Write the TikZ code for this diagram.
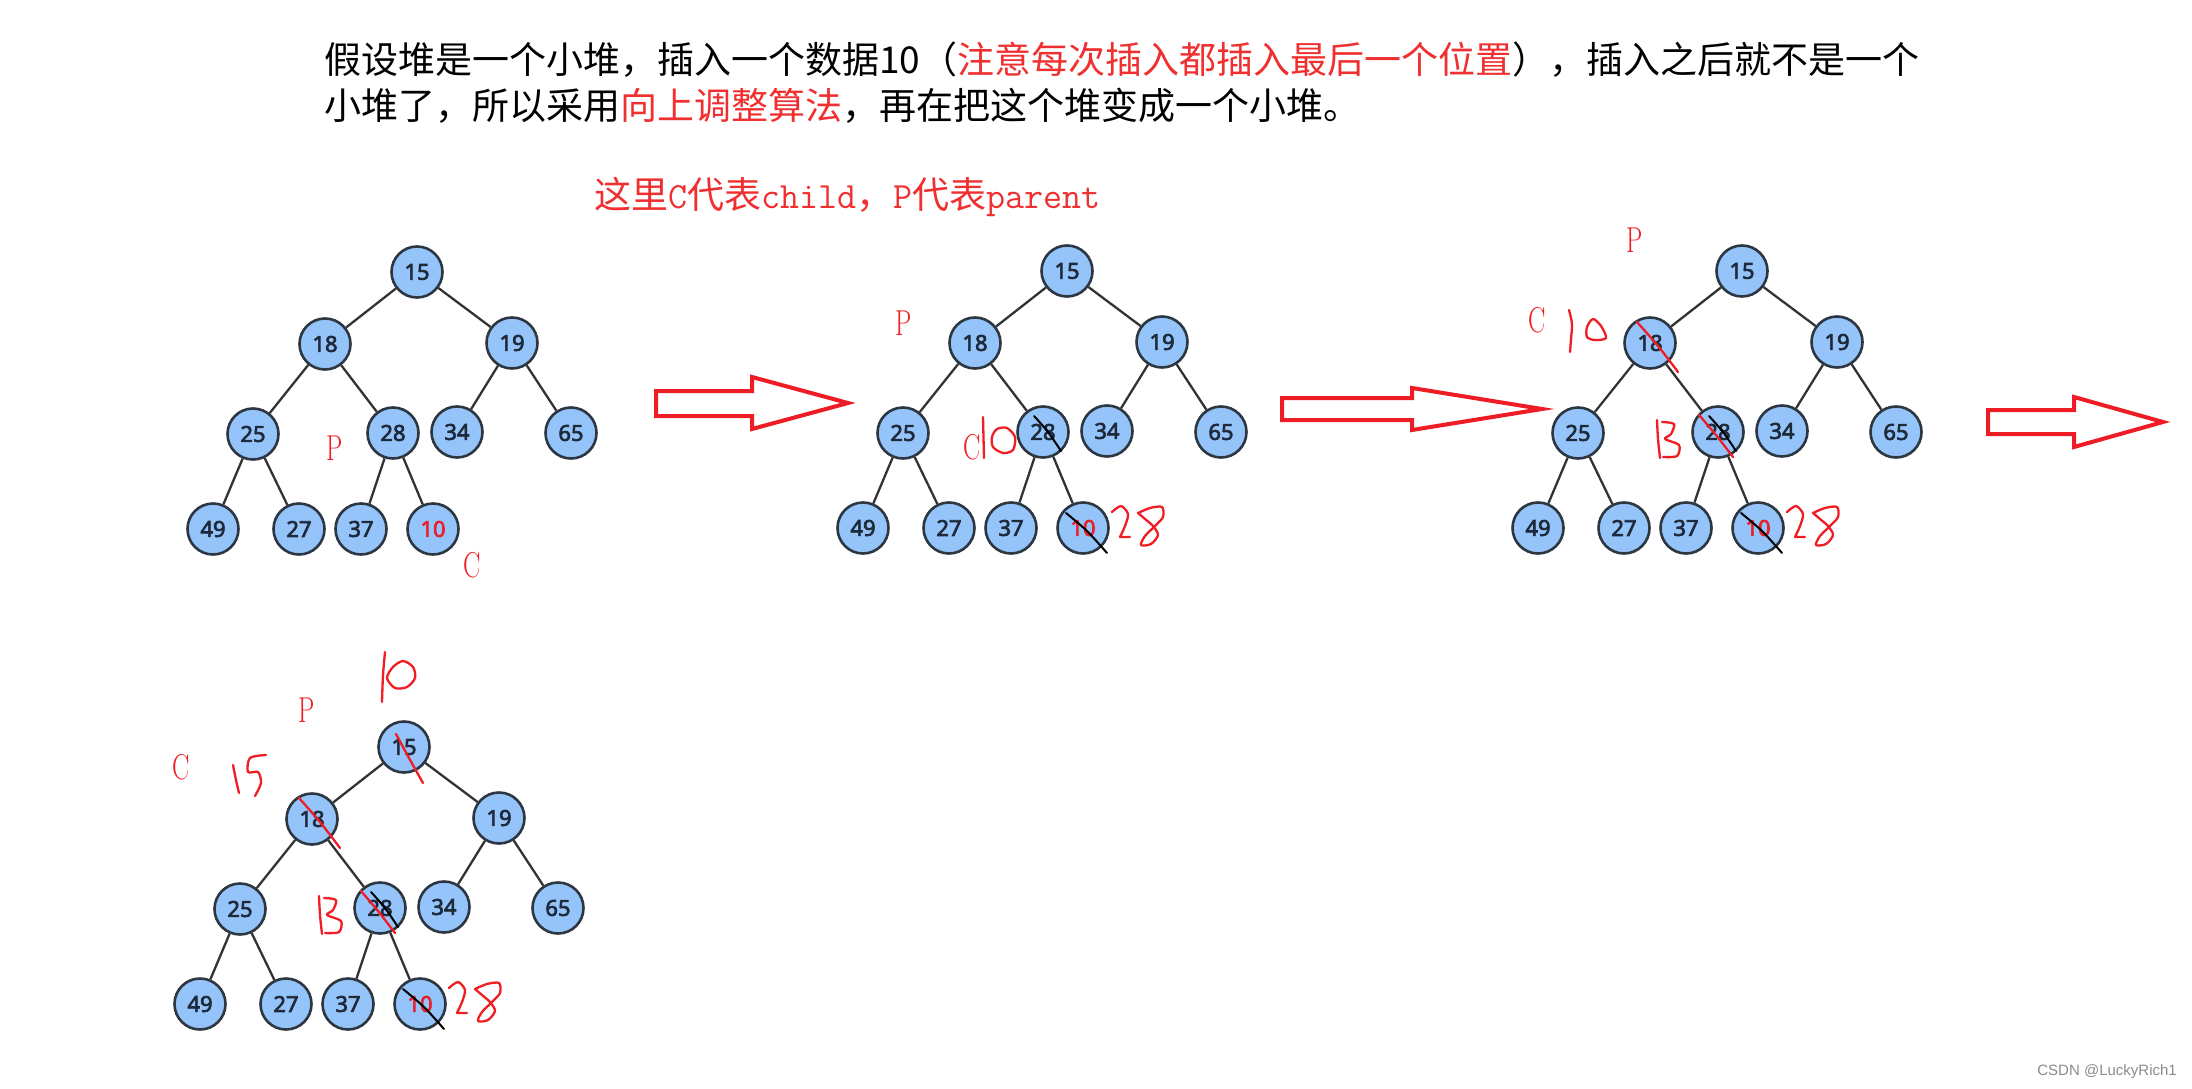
\documentclass[tikz,border=0pt]{standalone}
\usepackage{fontspec}
\usepackage{graphicx}
\newfontfamily\cjk{Noto Sans CJK SC}
\newfontfamily\numfont{Noto Sans}[FakeBold=3]
\newfontfamily\wmfont{Liberation Sans}
\definecolor{nodefill}{HTML}{94C4FA}
\definecolor{nodeborder}{HTML}{2D3742}
\definecolor{numtext}{HTML}{1E2A3A}
\definecolor{tenred}{HTML}{E8202A}
\definecolor{edgecol}{HTML}{333333}
\definecolor{penred}{HTML}{F01E24}
\definecolor{arrowred}{HTML}{EE1C24}
\definecolor{txtred}{HTML}{F03030}
\tikzset{
  hn/.style={circle, draw=nodeborder, line width=2.6pt, fill=nodefill, minimum size=51pt, inner sep=0pt,
    font=\numfont\fontsize{22}{22}\selectfont, text=numtext},
  edge/.style={draw=edgecol, line width=2.3pt},
  pen/.style={draw=penred, line width=2.3pt, line cap=round, line join=round},
  blackpen/.style={draw=black, line width=2pt, line cap=round, line join=round},
  lbl/.style={text=penred, font=\rmfamily\fontsize{36}{36}\selectfont, inner sep=0pt},
  bigarrow/.style={draw=arrowred, line width=4pt, line join=miter},
}
\newcommand\heaptree[3]{%
\begin{scope}[shift={(#2,#3)}]
 \node[hn] (#1n15) at (417,272) {15};
 \node[hn] (#1n18) at (325,344) {18};
 \node[hn] (#1n19) at (512,343) {19};
 \node[hn] (#1n25) at (253,434) {25};
 \node[hn] (#1n28) at (393,433) {28};
 \node[hn] (#1n34) at (457,432) {34};
 \node[hn] (#1n65) at (571,433) {65};
 \node[hn] (#1n49) at (213,529) {49};
 \node[hn] (#1n27) at (299,529) {27};
 \node[hn] (#1n37) at (361,529) {37};
 \node[hn, text=tenred] (#1n10) at (433,529) {10};
 \draw[edge] (#1n15) -- (#1n18);
 \draw[edge] (#1n15) -- (#1n19);
 \draw[edge] (#1n18) -- (#1n25);
 \draw[edge] (#1n18) -- (#1n28);
 \draw[edge] (#1n19) -- (#1n34);
 \draw[edge] (#1n19) -- (#1n65);
 \draw[edge] (#1n25) -- (#1n49);
 \draw[edge] (#1n25) -- (#1n27);
 \draw[edge] (#1n28) -- (#1n37);
 \draw[edge] (#1n28) -- (#1n10);
\end{scope}}
% marks common to trees 2-4 (in tree frame)
\newcommand\swapmarks{%
 \draw[blackpen] plot[smooth] coordinates {(384,417) (398,433) (411,452)};
 \draw[blackpen] plot[smooth] coordinates {(416,514) (437,532) (457,554)};
 \draw[pen] plot[smooth] coordinates {(462,513) (471,507) (478,515) (475,527) (470,538)} -- (480,538);
 \draw[pen] plot[smooth] coordinates {(488,514) (500,509) (512,508) (513,518) (505,527) (495,537) (491,546) (501,545) (508,536) (503,527) (495,520) (488,514)};
}
\newcommand\eighteenmarks{%
 \draw[pen] plot[smooth] coordinates {(312,323) (333,347) (353,373)};
 \draw[pen] plot[smooth] coordinates {(332,421) (333,440) (335,459)};
 \draw[pen] plot[smooth] coordinates {(337,423) (349,425) (346,435) (340,440) (354,446) (352,457) (338,458)};
 \draw[pen] plot[smooth] coordinates {(374,416) (391,436) (408,458)};
}
\begin{document}
\begin{tikzpicture}[x=1pt,y=-1pt]
\useasboundingbox (0,0) rectangle (2192,1089);
\fill[white] (0,0) rectangle (2192,1089);

% heading text
\node[anchor=west, inner sep=0pt, font=\cjk\fontsize{37}{37}\selectfont] (line1) at (324,60)
  {假设堆是一个小堆，插入一个数据10（\textcolor{txtred}{注意每次插入都插入最后一个位置}），插入之后就不是一个};
\node[anchor=west, inner sep=0pt, font=\cjk\fontsize{37}{37}\selectfont] (line2) at (324,106)
  {小堆了，所以采用\textcolor{txtred}{向上调整算法}，再在把这个堆变成一个小堆。};
\node[anchor=west, inner sep=0pt, text=txtred, font=\cjk\fontsize{37}{37}\selectfont] (sub) at (594,197)
  {这里{\ttfamily C}代表{\ttfamily child}，{\ttfamily P}代表{\ttfamily parent}};

% tree 1
\heaptree{a}{0}{0}
\node[lbl] (aP) at (335,448) {\scalebox{0.72}[1]{P}};
\node[lbl] (aC) at (472,565) {\scalebox{0.72}[1]{C}};

% tree 2
\heaptree{b}{650}{-1}
\begin{scope}[shift={(650,-1)}]
 \node[lbl] (bP) at (254,324) {\scalebox{0.72}[1]{P}};
 \node[lbl] (bC) at (322,448) {\scalebox{0.72}[1]{C}};
 \draw[pen] (333,418) -- (334,459);
 \draw[pen] plot[smooth cycle] coordinates {(342,438) (347,430) (357,429) (365,438) (363,451) (353,454) (343,448)};
 \swapmarks
\end{scope}

% tree 3
\heaptree{c}{1325}{-1}
\begin{scope}[shift={(1325,-1)}]
 \node[lbl] (cP) at (310,241) {\scalebox{0.72}[1]{P}};
 \node[lbl] (cC) at (212,321) {\scalebox{0.72}[1]{C}};
 \draw[pen] plot[smooth] coordinates {(244,311) (247,325) (246,340) (245,353)};
 \draw[pen] plot[smooth cycle] coordinates {(262,328) (268,320) (276,327) (281,339) (270,341) (262,338)};
 \eighteenmarks
 \swapmarks
\end{scope}

% tree 4
\heaptree{d}{-13}{475}
\begin{scope}[shift={(-13,475)}]
 \node[lbl] (dP) at (320,235) {\scalebox{0.72}[1]{P}};
 \node[lbl] (dC) at (194,292) {\scalebox{0.72}[1]{C}};
 \draw[pen] plot[smooth] coordinates {(398,177) (396,200) (395,227)};
 \draw[pen] plot[smooth cycle] coordinates {(400,203) (406,192) (416,186) (426,192) (428,203) (420,212) (408,213)};
 \draw[pen] plot[smooth] coordinates {(246,290) (249,305) (252,318)};
 \draw[pen] plot[smooth] coordinates {(279,280) (263,283) (261,297) (271,297) (274,308) (268,321)};
 \draw[pen] plot[smooth] coordinates {(409,259) (422,283) (436,308)};
 \eighteenmarks
 \swapmarks
\end{scope}

% big hollow arrows
\draw[bigarrow] (656,391) -- (752,391) -- (752,377) -- (848,403) -- (752,429) -- (752,416) -- (656,416) -- cycle;
\draw[bigarrow] (1282,398) -- (1412,398) -- (1412,388) -- (1542,409) -- (1412,430) -- (1412,420) -- (1282,420) -- cycle;
\draw[bigarrow] (1988,410) -- (2074,410) -- (2074,397) -- (2163,422) -- (2074,447) -- (2074,434) -- (1988,434) -- cycle;

% watermark
\node[anchor=east, inner sep=0pt, text=black!45, font=\wmfont\fontsize{15}{15}\selectfont] (wm) at (2177,1072) {CSDN @LuckyRich1};
\end{tikzpicture}
\end{document}
